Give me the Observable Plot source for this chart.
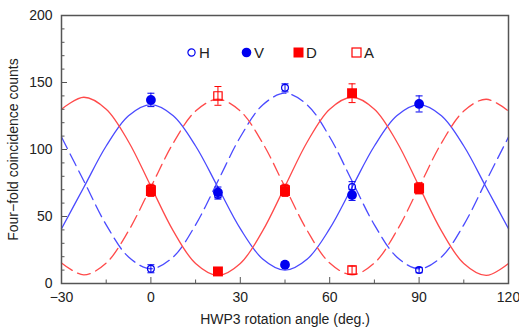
<!DOCTYPE html>
<html><head><meta charset="utf-8">
<script src="https://cdn.jsdelivr.net/npm/d3@7"></script>
<script src="https://cdn.jsdelivr.net/npm/@observablehq/plot@0.6"></script>
<style>
body{margin:0;background:#fff;}
#wrap{position:relative;width:519px;height:329px;}
#legend{position:absolute;top:0;left:0;width:519px;height:60px;font:15px "Liberation Sans",Arial,sans-serif;color:#222;pointer-events:none;}
.item{position:absolute;display:flex;align-items:center;top:44px;}
.item svg{margin-right:2px;}
</style></head><body><div id="wrap"><div id="legend"></div></div>
<script>
// measured data
const angles = [0, 22.5, 45, 67.5, 90];
const H = [11, 66, 146, 72, 10];
const Herr = [3, 3, 3, 4, 2];
const V = [137, 68, 14, 66, 134];
const Verr = [5, 4, 2, 4, 6];
const D = [69, 9, 69, 142, 71];
const Derr = [4, 2, 4, 7, 4];
const A = [70, 140, 70, 10, 71];
const Aerr = [4, 7, 4, 3, 4];

// fitted curves
const fitAngles = [-30, -22.5, -15, -7.5, 0, 7.5, 15, 22.5, 30, 37.5, 45, 52.5, 60, 67.5, 75, 82.5, 90, 97.5, 105, 112.5, 120];
const fitH = [109.3, 76.5, 43.8, 19.8, 11, 19.8, 43.8, 76.5, 109.3, 133.2, 142, 133.2, 109.3, 76.5, 43.8, 19.8, 11, 19.8, 43.8, 76.5, 109.3];
const fitV = [40.9, 71.8, 102.6, 125.2, 133.5, 125.2, 102.6, 71.8, 40.9, 18.3, 10, 18.3, 40.9, 71.8, 102.6, 125.2, 133.5, 125.2, 102.6, 71.8, 40.9];
const fitD = [130.1, 139, 130.1, 105.8, 72.5, 39.3, 14.9, 6, 14.9, 39.3, 72.5, 105.8, 130.1, 139, 130.1, 105.8, 72.5, 39.3, 14.9, 6, 14.9];
const fitA = [15.3, 6.5, 15.3, 39.3, 72, 104.8, 128.7, 137.5, 128.7, 104.8, 72, 39.3, 15.3, 6.5, 15.3, 39.3, 72, 104.8, 128.7, 137.5, 128.7];

// ticks
const xMajor = [-30, 0, 30, 60, 90, 120];
const xMinor = [-15, 15, 45, 75, 105];
const yMajor = [0, 50, 100, 150, 200];
const yMinor = [10, 20, 30, 40, 60, 70, 80, 90, 110, 120, 130, 140, 160, 170, 180, 190];
const seriesKeys = ["H", "V", "D", "A"];
const xLabel = "HWP3 rotation angle (deg.)";
const yLabel = "Four−fold coincidence counts";

// styles
const BLUE = "#0000f0", BLUE_LINE = "#4a4aff", RED = "#ff0000", RED_LINE = "#ff4a4a";
const style = {
  H: {color: BLUE, line: BLUE_LINE, dash: "13,6", symbol: "circle", r: 3.4, filled: false},
  V: {color: BLUE, line: BLUE_LINE, dash: null, symbol: "circle", r: 4.9, filled: true},
  D: {color: RED, line: RED_LINE, dash: null, symbol: "square", r: 5.6, filled: true},
  A: {color: RED, line: RED_LINE, dash: "13,6", symbol: "square", r: 4.7, filled: false}
};
const meas = {H: [H, Herr], V: [V, Verr], D: [D, Derr], A: [A, Aerr]};

const fitTable = fitAngles.map((a, i) => ({a, H: fitH[i], V: fitV[i], D: fitD[i], A: fitA[i]}));
const pts = k => angles.map((a, i) => ({a, v: meas[k][0][i], e: meas[k][1][i]}));

const capSymbol = {draw(ctx, size) { const w = Math.sqrt(size / Math.PI); ctx.moveTo(-w, 0); ctx.lineTo(w, 0); }};

const lineMarks = seriesKeys.map(k => Plot.line(fitTable, {
  x: "a", y: k, curve: "catmull-rom", stroke: style[k].line, strokeWidth: 1.3,
  strokeDasharray: style[k].dash
}));

const drawOrder = ["A", "H", "D", "V"];
const pointMarks = drawOrder.flatMap(k => {
  const s = style[k], d = pts(k);
  return [
    Plot.ruleX(d, {x: "a", y1: p => p.v - p.e, y2: p => p.v + p.e, stroke: s.color, strokeWidth: 1}),
    Plot.dot(d, {x: "a", y: p => p.v - p.e, symbol: capSymbol, r: 3.5, stroke: s.color, strokeWidth: 1}),
    Plot.dot(d, {x: "a", y: p => p.v + p.e, symbol: capSymbol, r: 3.5, stroke: s.color, strokeWidth: 1}),
    Plot.dot(d, {x: "a", y: "v", symbol: s.symbol, r: s.r,
      fill: s.filled ? s.color : "white", fillOpacity: s.filled ? 1 : 0,
      stroke: s.color, strokeWidth: s.filled ? 0 : 1.2})
  ];
});

const chart = Plot.plot({
  width: 519, height: 329,
  marginLeft: 61, marginRight: 11, marginTop: 15, marginBottom: 46,
  style: {fontFamily: "'Liberation Sans', Arial, sans-serif", fontSize: "14px", color: "#222", background: "white"},
  x: {domain: [-30, 120], label: xLabel, labelArrow: "none"},
  y: {domain: [0, 200], label: yLabel, labelArrow: "none"},
  marks: [
    ...lineMarks,
    ...pointMarks,
    Plot.frame({stroke: "#555", strokeWidth: 1.5}),
    Plot.axisX(xMajor, {tickSize: 0, tickPadding: 9, fontSize: 14, label: xLabel, labelArrow: "none", labelAnchor: "center", labelOffset: 40}),
    Plot.axisX(xMajor, {tickSize: -6, fill: "none", label: null, stroke: "#555"}),
    Plot.axisX(xMinor, {tickSize: -3.5, fill: "none", label: null, stroke: "#555"}),
    Plot.axisY(yMajor, {tickSize: 0, tickPadding: 9, fontSize: 14, label: yLabel, labelArrow: "none", labelAnchor: "center", labelOffset: 53}),
    Plot.axisY(yMajor, {tickSize: -6, fill: "none", label: null, stroke: "#555"}),
    Plot.axisY(yMinor, {tickSize: -3.5, fill: "none", label: null, stroke: "#555"})
  ]
});
document.getElementById("wrap").prepend(chart);

// legend overlay
const legendPos = {H: 186, V: 241, D: 293, A: 351};
const leg = document.getElementById("legend");
for (const k of seriesKeys) {
  const s = style[k];
  const div = document.createElement("div");
  div.className = "item";
  div.style.left = legendPos[k] + "px";
  let shape;
  if (s.symbol === "circle") {
    const r = s.filled ? 4.8 : 3.6;
    shape = `<circle cx="5.5" cy="5.5" r="${r}" fill="${s.filled ? s.color : "none"}" stroke="${s.color}" stroke-width="${s.filled ? 0 : 1.2}"/>`;
  } else {
    const w = s.filled ? 10 : 9;
    shape = `<rect x="${(11 - w) / 2}" y="${(11 - w) / 2}" width="${w}" height="${w}" fill="${s.filled ? s.color : "none"}" stroke="${s.color}" stroke-width="${s.filled ? 0 : 1.2}"/>`;
  }
  div.innerHTML = `<svg width="11" height="11">${shape}</svg><span>${k}</span>`;
  leg.appendChild(div);
}
</script>
</body></html>
